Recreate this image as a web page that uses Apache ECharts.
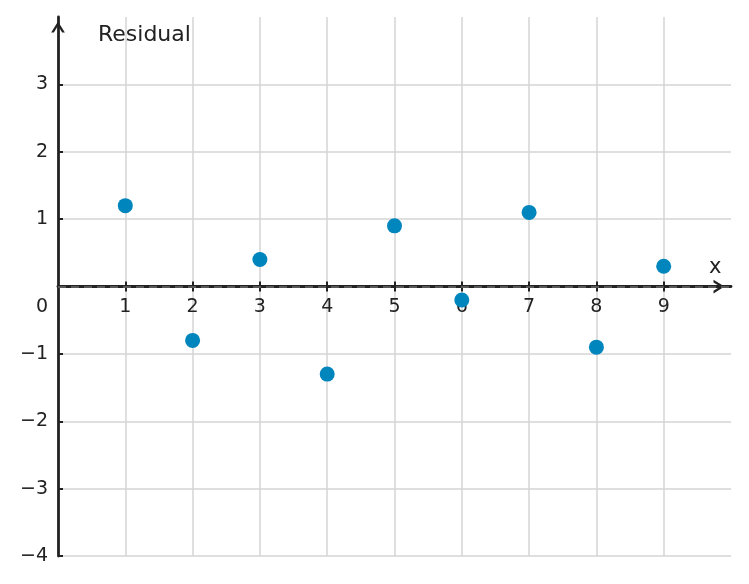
<!DOCTYPE html>
<html>
<head>
<meta charset="utf-8">
<script src="https://cdn.jsdelivr.net/npm/echarts@6/dist/echarts.min.js"></script>
<style>
html,body{margin:0;padding:0;background:#fff;}
#chart{width:749px;height:584px;}
</style>
</head>
<body>
<div id="chart"></div>
<script>
var xValues = [1, 2, 3, 4, 5, 6, 7, 8, 9];
var residuals = [1.2, -0.8, 0.4, -1.3, 0.9, -0.2, 1.1, -0.9, 0.3];
var xTickLabels = ['1', '2', '3', '4', '5', '6', '7', '8', '9'];
var yTickValues = [-4, -3, -2, -1, 0, 1, 2, 3];
var yTickLabels = ['\u22124', '\u22123', '\u22122', '\u22121', '0', '1', '2', '3'];

var points = xValues.map(function (x, i) { return [x, residuals[i]]; });
var chevron = 'path://M0,8 L5,0 L10,8 L8,8 L5,3.1 L2,8 Z';
var font = 'DejaVu Sans';
var ink = '#222222';
var X_MIN = 0, X_MAX = 10, Y_MIN = -4, Y_MAX = 4;
var gridTop = 17, gridBottom = 28, H = 584;
var zeroOffset = -((H - gridTop - gridBottom) * (0 - Y_MIN) / (Y_MAX - Y_MIN));

var chart = echarts.init(document.getElementById('chart'), null, {renderer: 'canvas'});
chart.setOption({
  animation: false,
  backgroundColor: '#ffffff',
  grid: {left: 58, right: 18, top: gridTop, bottom: gridBottom, containLabel: false},
  xAxis: [{
    type: 'value', min: X_MIN, max: X_MAX, interval: 1, z: 3,
    position: 'bottom', offset: zeroOffset,
    name: 'x', nameLocation: 'end', nameGap: -22,
    nameTextStyle: {fontFamily: font, fontSize: 21, color: ink, align: 'left', verticalAlign: 'bottom', padding: [0, 0, 8, 0]},
    axisLine: {onZero: false, show: true, symbol: ['none', chevron], symbolSize: [14, 11], symbolOffset: [0, -12],
      lineStyle: {color: ink, width: 2.8}},
    axisTick: {show: true, inside: false, length: 5, customValues: xValues, lineStyle: {color: ink, width: 2}},
    axisLabel: {fontFamily: font, fontSize: 19, color: ink, margin: 11, customValues: xValues,
      formatter: function (v) { var i = xValues.indexOf(v); return i >= 0 ? xTickLabels[i] : ''; }},
    splitLine: {show: true, showMinLine: true, showMaxLine: true, lineStyle: {color: '#d4d4d4', width: 1.5}}
  }, {
    type: 'value', min: X_MIN, max: X_MAX, interval: 1, z: 3,
    position: 'bottom', offset: zeroOffset,
    axisLine: {show: false, onZero: false},
    axisTick: {show: true, inside: true, length: 5, customValues: xValues, lineStyle: {color: ink, width: 2}},
    axisLabel: {show: false},
    splitLine: {show: false}
  }],
  yAxis: {
    type: 'value', min: Y_MIN, max: Y_MAX, interval: 1, z: 3,
    name: 'Residual', nameLocation: 'end', nameGap: -18,
    nameTextStyle: {fontFamily: font, fontSize: 22, color: ink, align: 'left', verticalAlign: 'middle', padding: [0, 0, 0, 40]},
    axisLine: {onZero: false, show: true, symbol: ['none', chevron], symbolSize: [14, 11], symbolOffset: [0, -10],
      lineStyle: {color: ink, width: 2.8}},
    axisTick: {show: true, inside: true, length: 5, customValues: yTickValues, lineStyle: {color: ink, width: 2}},
    axisLabel: {fontFamily: font, fontSize: 19, color: ink, margin: 10, customValues: yTickValues,
      formatter: function (v) {
        var i = yTickValues.indexOf(v);
        var t = i >= 0 ? yTickLabels[i] : '';
        return v === 0 ? '{z|' + t + '}' : t;
      },
      rich: {z: {fontFamily: font, fontSize: 19, color: ink, padding: [42, 0, 0, 0]}}},
    splitLine: {show: true, showMinLine: true, showMaxLine: true, lineStyle: {color: '#d4d4d4', width: 1.5}}
  },
  series: [{
    type: 'scatter',
    xAxisIndex: 0,
    data: [],
    z: 1,
    markLine: {
      silent: true, symbol: ['none', 'none'], label: {show: false},
      lineStyle: {color: '#6a6a6a', type: [8, 5], width: 1.6},
      data: [{yAxis: 0}]
    }
  }, {
    type: 'scatter',
    xAxisIndex: 0,
    data: points,
    symbolSize: 15,
    itemStyle: {color: '#0085bd', opacity: 1},
    zlevel: 1,
    z: 10
  }]
});
</script>
</body>
</html>
